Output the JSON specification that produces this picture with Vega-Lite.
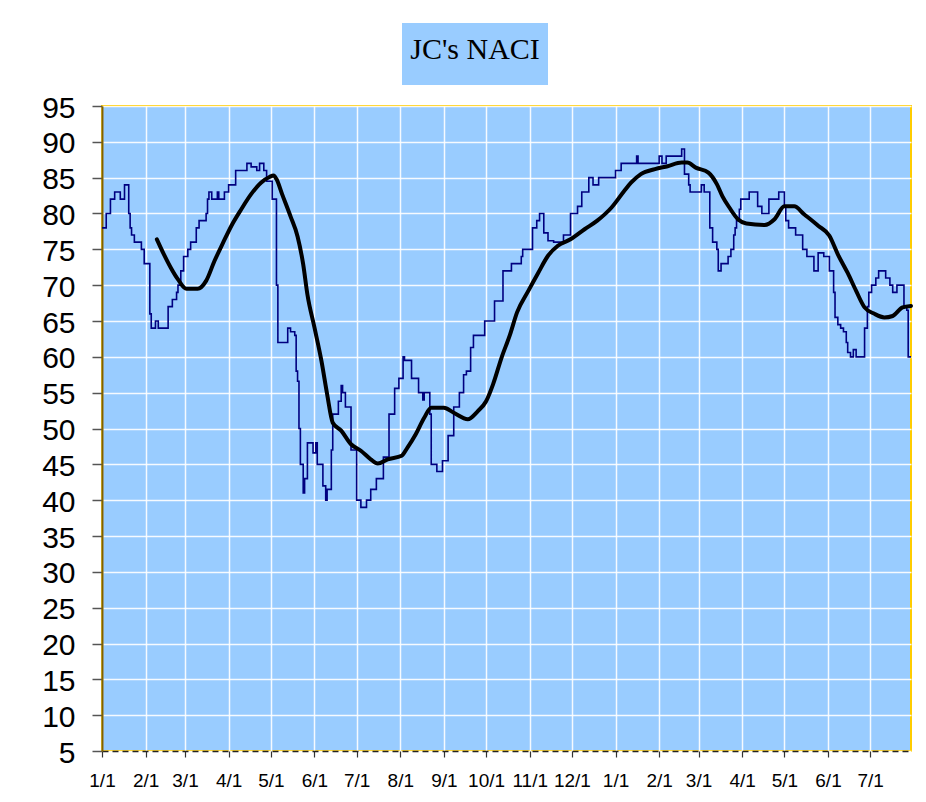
{
  "$schema": "https://vega.github.io/schema/vega-lite/v6.json",
  "padding": {"left": 40, "top": 23, "right": 5, "bottom": 5},
  "background": "white",
  "spacing": 7,
  "datasets": {
    "naci": [
      {"date": "2006/01/01", "value": 78}, {"date": "2006/01/04", "value": 80}, {"date": "2006/01/07", "value": 82},
      {"date": "2006/01/10", "value": 83}, {"date": "2006/01/14", "value": 82}, {"date": "2006/01/17", "value": 84},
      {"date": "2006/01/20", "value": 80}, {"date": "2006/01/21", "value": 78}, {"date": "2006/01/22", "value": 77},
      {"date": "2006/01/24", "value": 76}, {"date": "2006/01/29", "value": 75}, {"date": "2006/01/31", "value": 73},
      {"date": "2006/02/04", "value": 66}, {"date": "2006/02/05", "value": 64}, {"date": "2006/02/08", "value": 65},
      {"date": "2006/02/10", "value": 64}, {"date": "2006/02/17", "value": 67}, {"date": "2006/02/20", "value": 68},
      {"date": "2006/02/23", "value": 69}, {"date": "2006/02/24", "value": 70}, {"date": "2006/02/26", "value": 72},
      {"date": "2006/02/28", "value": 74}, {"date": "2006/03/03", "value": 75}, {"date": "2006/03/05", "value": 76},
      {"date": "2006/03/09", "value": 78}, {"date": "2006/03/11", "value": 79}, {"date": "2006/03/16", "value": 80},
      {"date": "2006/03/17", "value": 82}, {"date": "2006/03/18", "value": 83}, {"date": "2006/03/20", "value": 82},
      {"date": "2006/03/24", "value": 83}, {"date": "2006/03/25", "value": 82}, {"date": "2006/03/29", "value": 83},
      {"date": "2006/04/01", "value": 84}, {"date": "2006/04/06", "value": 86}, {"date": "2006/04/14", "value": 87},
      {"date": "2006/04/17", "value": 86.5}, {"date": "2006/04/21", "value": 86}, {"date": "2006/04/23", "value": 87},
      {"date": "2006/04/26", "value": 86}, {"date": "2006/04/28", "value": 84.5}, {"date": "2006/05/02", "value": 82},
      {"date": "2006/05/05", "value": 70}, {"date": "2006/05/06", "value": 62}, {"date": "2006/05/13", "value": 64},
      {"date": "2006/05/15", "value": 63.5}, {"date": "2006/05/18", "value": 63}, {"date": "2006/05/19", "value": 58},
      {"date": "2006/05/20", "value": 56.6}, {"date": "2006/05/21", "value": 50}, {"date": "2006/05/22", "value": 45},
      {"date": "2006/05/24", "value": 41}, {"date": "2006/05/25", "value": 43}, {"date": "2006/05/27", "value": 48},
      {"date": "2006/05/31", "value": 46.6}, {"date": "2006/06/02", "value": 48}, {"date": "2006/06/03", "value": 45},
      {"date": "2006/06/07", "value": 42}, {"date": "2006/06/09", "value": 40}, {"date": "2006/06/10", "value": 41.5},
      {"date": "2006/06/13", "value": 47}, {"date": "2006/06/14", "value": 52}, {"date": "2006/06/18", "value": 53.8},
      {"date": "2006/06/20", "value": 56}, {"date": "2006/06/21", "value": 55}, {"date": "2006/06/23", "value": 53},
      {"date": "2006/06/27", "value": 47}, {"date": "2006/07/01", "value": 40}, {"date": "2006/07/04", "value": 39},
      {"date": "2006/07/08", "value": 40}, {"date": "2006/07/11", "value": 41.5}, {"date": "2006/07/15", "value": 43},
      {"date": "2006/07/20", "value": 46}, {"date": "2006/07/24", "value": 52}, {"date": "2006/07/28", "value": 55.6},
      {"date": "2006/07/31", "value": 57}, {"date": "2006/08/03", "value": 60}, {"date": "2006/08/04", "value": 59.5},
      {"date": "2006/08/09", "value": 57}, {"date": "2006/08/14", "value": 55}, {"date": "2006/08/17", "value": 54},
      {"date": "2006/08/18", "value": 55}, {"date": "2006/08/22", "value": 52}, {"date": "2006/08/23", "value": 45},
      {"date": "2006/08/27", "value": 44}, {"date": "2006/08/31", "value": 45.5}, {"date": "2006/09/04", "value": 49},
      {"date": "2006/09/08", "value": 53}, {"date": "2006/09/12", "value": 55}, {"date": "2006/09/15", "value": 57.5},
      {"date": "2006/09/17", "value": 58}, {"date": "2006/09/20", "value": 61.3}, {"date": "2006/09/22", "value": 63},
      {"date": "2006/09/30", "value": 65}, {"date": "2006/10/07", "value": 67.8}, {"date": "2006/10/13", "value": 72},
      {"date": "2006/10/19", "value": 73}, {"date": "2006/10/26", "value": 74}, {"date": "2006/10/27", "value": 75},
      {"date": "2006/11/03", "value": 78}, {"date": "2006/11/06", "value": 79}, {"date": "2006/11/08", "value": 80},
      {"date": "2006/11/11", "value": 77.3}, {"date": "2006/11/14", "value": 76.2}, {"date": "2006/11/18", "value": 76},
      {"date": "2006/11/25", "value": 77}, {"date": "2006/11/30", "value": 80}, {"date": "2006/12/05", "value": 81},
      {"date": "2006/12/08", "value": 83}, {"date": "2006/12/13", "value": 85}, {"date": "2006/12/16", "value": 84},
      {"date": "2006/12/20", "value": 85}, {"date": "2007/01/01", "value": 86}, {"date": "2007/01/05", "value": 87},
      {"date": "2007/01/16", "value": 88}, {"date": "2007/01/17", "value": 87}, {"date": "2007/02/01", "value": 88},
      {"date": "2007/02/03", "value": 87}, {"date": "2007/02/06", "value": 88}, {"date": "2007/02/17", "value": 89},
      {"date": "2007/02/19", "value": 85.5}, {"date": "2007/02/22", "value": 84}, {"date": "2007/02/23", "value": 83},
      {"date": "2007/03/03", "value": 84}, {"date": "2007/03/05", "value": 83}, {"date": "2007/03/09", "value": 78},
      {"date": "2007/03/11", "value": 76}, {"date": "2007/03/14", "value": 75}, {"date": "2007/03/15", "value": 72},
      {"date": "2007/03/17", "value": 73}, {"date": "2007/03/22", "value": 74}, {"date": "2007/03/24", "value": 75},
      {"date": "2007/03/26", "value": 77}, {"date": "2007/03/27", "value": 78}, {"date": "2007/03/28", "value": 79},
      {"date": "2007/03/30", "value": 80.6}, {"date": "2007/03/31", "value": 82}, {"date": "2007/04/06", "value": 83},
      {"date": "2007/04/12", "value": 81}, {"date": "2007/04/15", "value": 80}, {"date": "2007/04/20", "value": 82},
      {"date": "2007/04/27", "value": 83}, {"date": "2007/05/01", "value": 81}, {"date": "2007/05/02", "value": 79},
      {"date": "2007/05/04", "value": 78}, {"date": "2007/05/09", "value": 77}, {"date": "2007/05/14", "value": 75},
      {"date": "2007/05/17", "value": 74}, {"date": "2007/05/22", "value": 72}, {"date": "2007/05/25", "value": 74.5},
      {"date": "2007/05/29", "value": 74}, {"date": "2007/06/02", "value": 72}, {"date": "2007/06/05", "value": 69},
      {"date": "2007/06/06", "value": 65.5}, {"date": "2007/06/08", "value": 64.5}, {"date": "2007/06/10", "value": 64},
      {"date": "2007/06/12", "value": 63.5}, {"date": "2007/06/14", "value": 62}, {"date": "2007/06/15", "value": 60.6},
      {"date": "2007/06/17", "value": 60}, {"date": "2007/06/19", "value": 61}, {"date": "2007/06/21", "value": 60},
      {"date": "2007/06/27", "value": 64}, {"date": "2007/06/29", "value": 67}, {"date": "2007/06/30", "value": 69},
      {"date": "2007/07/02", "value": 70}, {"date": "2007/07/05", "value": 71}, {"date": "2007/07/07", "value": 72},
      {"date": "2007/07/12", "value": 71}, {"date": "2007/07/15", "value": 70}, {"date": "2007/07/17", "value": 69},
      {"date": "2007/07/20", "value": 70}, {"date": "2007/07/25", "value": 67}, {"date": "2007/07/27", "value": 66.5},
      {"date": "2007/07/28", "value": 60}, {"date": "2007/07/30", "value": 60}
    ],
    "avg": [
      {"date": "2006/02/09", "value": 76.4}, {"date": "2006/02/14", "value": 74.3}, {"date": "2006/02/19", "value": 72.4},
      {"date": "2006/02/24", "value": 70.8}, {"date": "2006/03/02", "value": 69.5}, {"date": "2006/03/10", "value": 69.5},
      {"date": "2006/03/16", "value": 70.6}, {"date": "2006/03/22", "value": 73.4}, {"date": "2006/03/28", "value": 75.9},
      {"date": "2006/04/03", "value": 78.3}, {"date": "2006/04/10", "value": 80.6}, {"date": "2006/04/17", "value": 82.7},
      {"date": "2006/04/24", "value": 84.3}, {"date": "2006/04/30", "value": 85.1}, {"date": "2006/05/03", "value": 85.3},
      {"date": "2006/05/05", "value": 84.8}, {"date": "2006/05/09", "value": 82.7}, {"date": "2006/05/15", "value": 79.6},
      {"date": "2006/05/20", "value": 76.8}, {"date": "2006/05/24", "value": 72.9}, {"date": "2006/05/27", "value": 68.7},
      {"date": "2006/06/01", "value": 64.1}, {"date": "2006/06/06", "value": 59.4}, {"date": "2006/06/10", "value": 54.8},
      {"date": "2006/06/14", "value": 50.8}, {"date": "2006/06/20", "value": 49.7}, {"date": "2006/06/27", "value": 47.8},
      {"date": "2006/07/04", "value": 46.9}, {"date": "2006/07/11", "value": 45.7}, {"date": "2006/07/16", "value": 45.1},
      {"date": "2006/07/23", "value": 45.7}, {"date": "2006/08/02", "value": 46.2}, {"date": "2006/08/06", "value": 47.3},
      {"date": "2006/08/12", "value": 49.2}, {"date": "2006/08/18", "value": 51.5}, {"date": "2006/08/23", "value": 52.9},
      {"date": "2006/09/01", "value": 52.9}, {"date": "2006/09/08", "value": 52.2}, {"date": "2006/09/18", "value": 51.3},
      {"date": "2006/09/25", "value": 52.4}, {"date": "2006/10/01", "value": 53.8}, {"date": "2006/10/06", "value": 56.2},
      {"date": "2006/10/12", "value": 59.9}, {"date": "2006/10/18", "value": 63.1}, {"date": "2006/10/23", "value": 66.2},
      {"date": "2006/10/31", "value": 69.2}, {"date": "2006/11/07", "value": 71.7}, {"date": "2006/11/14", "value": 74.1},
      {"date": "2006/11/21", "value": 75.5}, {"date": "2006/11/30", "value": 76.4}, {"date": "2006/12/10", "value": 77.8},
      {"date": "2006/12/19", "value": 79}, {"date": "2006/12/29", "value": 80.8}, {"date": "2007/01/07", "value": 83.1},
      {"date": "2007/01/12", "value": 84.3}, {"date": "2007/01/19", "value": 85.5}, {"date": "2007/01/29", "value": 86.2},
      {"date": "2007/02/07", "value": 86.6}, {"date": "2007/02/17", "value": 87.1}, {"date": "2007/02/21", "value": 87.1},
      {"date": "2007/02/27", "value": 86.4}, {"date": "2007/03/08", "value": 85.7}, {"date": "2007/03/14", "value": 84.1},
      {"date": "2007/03/18", "value": 82.4}, {"date": "2007/03/23", "value": 80.8}, {"date": "2007/03/29", "value": 79.2},
      {"date": "2007/04/04", "value": 78.6}, {"date": "2007/04/17", "value": 78.4}, {"date": "2007/04/24", "value": 79.2},
      {"date": "2007/05/01", "value": 81}, {"date": "2007/05/08", "value": 81}, {"date": "2007/05/15", "value": 79.9},
      {"date": "2007/05/25", "value": 78.3}, {"date": "2007/06/02", "value": 76.9}, {"date": "2007/06/08", "value": 74.3},
      {"date": "2007/06/15", "value": 71.7}, {"date": "2007/06/21", "value": 69.2}, {"date": "2007/06/27", "value": 66.9},
      {"date": "2007/07/04", "value": 66}, {"date": "2007/07/11", "value": 65.5}, {"date": "2007/07/17", "value": 65.7},
      {"date": "2007/07/24", "value": 66.9}, {"date": "2007/07/30", "value": 67.1}
    ],
    "titletext": [{"label": "JC's NACI"}],
    "blank": [{"label": ""}]
  },
  "vconcat": [
    {
      "spacing": 0,
      "hconcat": [
        {
          "width": 300,
          "height": 62,
          "view": {"stroke": null, "fill": null},
          "data": {"name": "blank"},
          "mark": {"type": "text", "opacity": 0},
          "encoding": {"text": {"field": "label"}}
        },
        {
          "width": 146,
          "height": 62,
          "view": {"stroke": null, "fill": "#99CCFF"},
          "data": {"name": "titletext"},
          "mark": {"type": "text", "font": "Liberation Serif", "fontSize": 30, "color": "black", "baseline": "alphabetic", "align": "center", "dy": 5},
          "encoding": {"text": {"field": "label"}}
        }
      ]
    },
    {
      "width": 809,
      "height": 645,
      "view": {"fill": "#99CCFF", "stroke": "#FFCC00", "strokeWidth": 2},
      "encoding": {
        "x": {
          "field": "date",
          "type": "temporal",
          "scale": {"domain": [{"year": 2006, "month": 1, "date": 1}, {"year": 2007, "month": 7, "date": 30}], "nice": false},
          "axis": {
            "title": null,
            "tickCount": {"interval": "month", "step": 1},
            "format": "%-m/%-d",
            "labelFont": "Liberation Sans",
            "labelFontSize": 19,
            "labelColor": "black",
            "labelPadding": 14,
            "labelFlush": false,
            "labelOverlap": false,
            "labelBound": false,
            "tickSize": 6,
            "tickColor": "#333333",
            "tickWidth": 1.2,
            "domainColor": "#222222",
            "domainWidth": 1.5,
            "domainDash": [6, 4],
            "grid": true,
            "gridColor": "#ffffff",
            "gridWidth": 1.5,
            "gridOpacity": 0.9
          }
        },
        "y": {
          "field": "value",
          "type": "quantitative",
          "scale": {"domain": [5, 95], "nice": false, "zero": false},
          "axis": {
            "title": null,
            "values": [5, 10, 15, 20, 25, 30, 35, 40, 45, 50, 55, 60, 65, 70, 75, 80, 85, 90, 95],
            "labelFont": "Liberation Sans",
            "labelFontSize": 30,
            "labelColor": "black",
            "labelPadding": 17,
            "labelOffset": 2,
            "labelFlush": false,
            "labelOverlap": false,
            "labelBound": false,
            "tickSize": 10,
            "tickColor": "#555555",
            "tickWidth": 1.5,
            "domainColor": "#7F6000",
            "domainWidth": 2,
            "grid": true,
            "gridColor": "#ffffff",
            "gridWidth": 1.5,
            "gridOpacity": 0.9
          }
        }
      },
      "layer": [
        {
          "data": {"name": "naci"},
          "mark": {"type": "line", "interpolate": "step-after", "color": "#000080", "strokeWidth": 1.6}
        },
        {
          "data": {"name": "avg"},
          "mark": {"type": "line", "interpolate": "monotone", "color": "#000000", "strokeWidth": 4, "strokeJoin": "round", "strokeCap": "round"}
        }
      ]
    }
  ]
}
